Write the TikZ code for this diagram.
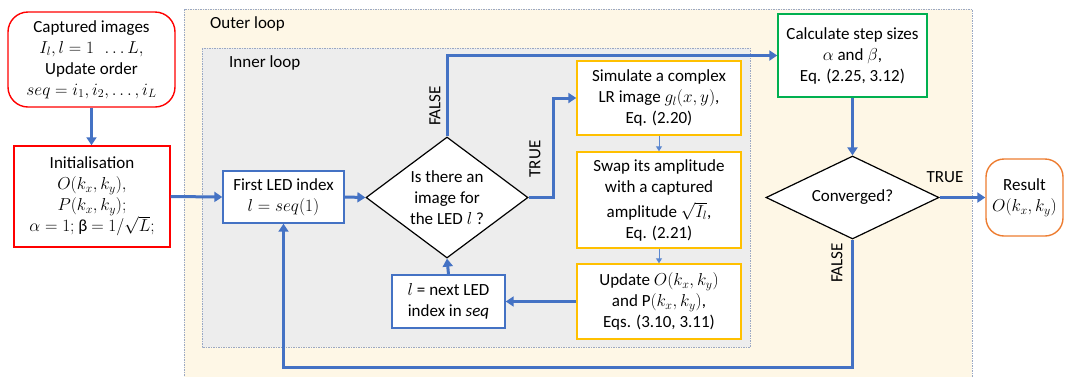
\documentclass[tikz,border=0pt]{standalone}
\usepackage{fontspec}
\setmainfont{Carlito}
\usetikzlibrary{shapes.geometric,arrows.meta}
\definecolor{cblue}{HTML}{4472C4}
\definecolor{cthin}{HTML}{5B87D0}
\definecolor{cred}{HTML}{FF0000}
\definecolor{cyel}{HTML}{FFC000}
\definecolor{cgreen}{HTML}{00B050}
\definecolor{corange}{HTML}{ED7D31}
\definecolor{outerfill}{HTML}{FEF7E6}
\definecolor{innerfill}{HTML}{EDEDED}
\definecolor{dotc}{HTML}{9AA8C4}
\tikzset{
  txt/.style={font=\fontsize{17}{21}\selectfont, align=center, inner sep=0pt},
  boxbase/.style={txt, draw, fill=white, line width=1.4pt},
  redround/.style={boxbase, draw=cred, rounded corners=20pt},
  redbox/.style={boxbase, draw=cred},
  bluebox/.style={boxbase, draw=cblue},
  yelbox/.style={boxbase, draw=cyel},
  greenbox/.style={boxbase, draw=cgreen},
  orround/.style={boxbase, draw=corange, rounded corners=18pt},
  dia/.style={draw=black, fill=white, shape=diamond, line width=1.2pt, inner sep=0pt, aspect=1},
  flow/.style={draw=cblue, line width=3pt, -{Triangle[length=8pt,width=10pt]}},
  thin/.style={draw=cthin, line width=1pt, -{Triangle[length=5pt,width=6pt]}},
  lbl/.style={txt, fill=none},
  region/.style={draw=dotc, line width=0.8pt, dash pattern=on 1.5pt off 1pt},
}
\begin{document}
\begin{tikzpicture}[x=1pt,y=-1pt]
\useasboundingbox (0,0) rectangle (1065,376);
% regions
\path[region, fill=outerfill] (184,9) rectangle (972,380);
\node[lbl, anchor=west] (outerlbl) at (210,24) {Outer loop};
\path[region, fill=innerfill] (202,48) rectangle (750,347);
\node[lbl, anchor=west] (innerlbl) at (229,63) {Inner loop};

% nodes
\node[redround, minimum width=167, minimum height=95] (cap) at (91.5,59.5)
  {Captured images\\ $I_l, l = 1\ \ \ldots L,$\\ Update order\\ $seq = i_1, i_2, \ldots, i_L$};
\node[redbox, minimum width=156, minimum height=101] (init) at (92,196.5)
  {Initialisation\\ $O\big(k_x, k_y\big),$\\ $P\big(k_x, k_y\big);$\\ $\alpha = 1;$ β $= 1/\sqrt{L};$};
\node[bluebox, minimum width=121, minimum height=52] (first) at (283.5,197)
  {First LED index\\ $l = seq(1)$};
\node[dia, minimum width=162, minimum height=121] (d1) at (447,197.5) {};
\node[lbl] (d1t) at (d1) {Is there an\\ image for\\ the LED $l$ ?};
\node[bluebox, minimum width=113, minimum height=53] (next) at (448.5,301.5)
  {$l$ = next LED\\ index in \textit{seq}};
\node[yelbox, minimum width=164, minimum height=74] (y1) at (659,98)
  {Simulate a complex\\ LR image $g_l(x,y)$,\\ Eq. (2.20)};
\node[yelbox, minimum width=164, minimum height=96] (y2) at (659,200)
  {Swap its amplitude\\ with a captured\\[4pt] amplitude $\sqrt{I_l}$,\\ Eq. (2.21)};
\node[yelbox, minimum width=164, minimum height=75] (y3) at (659,301.5)
  {Update $O\big(k_x, k_y\big)$\\ and P$\big(k_x, k_y\big)$,\\ Eqs. (3.10, 3.11)};
\node[greenbox, minimum width=149, minimum height=83] (green) at (852.5,55.5)
  {Calculate step sizes\\ $\alpha$ and $\beta$,\\ Eq. (2.25, 3.12)};
\node[dia, minimum width=173, minimum height=83] (d2) at (852.5,197.5) {};
\node[lbl] (d2t) at (d2) {Converged?};
\node[orround, minimum width=77, minimum height=77] (res) at (1024.5,197.5)
  {Result\\ $O\big(k_x, k_y\big)$};

% connectors
\draw[flow] (cap.south) -- (cap.south |- init.north);
\draw[flow] (init.east) -- (first.west);
\draw[flow] (first.east) -- (d1.west);
\draw[flow] (d1.north) |- (green.west);
\draw[flow] (d1.east) -- ++(25,0) |- (y1.west);
\draw[thin] (y1.south) -- (y2.north);
\draw[thin] (y2.south) -- (y3.north);
\draw[flow] (y3.west) -- (next.east);
\draw[flow] (next.north) -- (d1.south);
\draw[flow] (green.south) -- (d2.north);
\draw[flow] (d2.east) -- (res.west);
\coordinate (bot) at (852.5,367);
\draw[flow] (d2.south) -- (bot) -| (first.south);

% labels
\node[lbl, rotate=90] (f1) at (435,106) {FALSE};
\node[lbl, rotate=90] (t1) at (535,159) {TRUE};
\node[lbl] (t2) at (945,177) {TRUE};
\node[lbl, rotate=90] (f2) at (837,263) {FALSE};
\end{tikzpicture}
\end{document}
